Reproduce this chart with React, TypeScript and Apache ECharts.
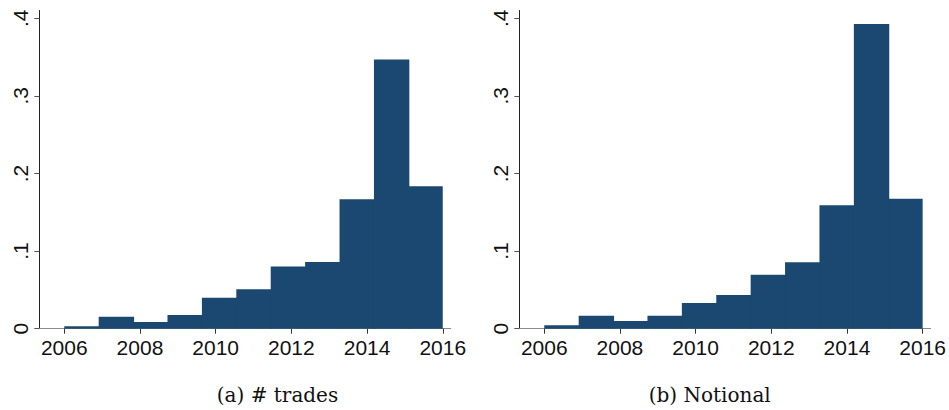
import React, { useEffect, useRef } from "react";
import * as echarts from "echarts";

const binStart = 2006;
const binCount = 11;
const binWidth = 10 / 11;
const tradesShare = [0.003, 0.0155, 0.0086, 0.0177, 0.04, 0.0508, 0.08, 0.086, 0.1667, 0.347, 0.1835];
const notionalShare = [0.0044, 0.0168, 0.0099, 0.0168, 0.033, 0.0434, 0.0696, 0.0856, 0.159, 0.3927, 0.1675];
const xTicks = [2006, 2008, 2010, 2012, 2014, 2016];
const yTicks = [0, 0.1, 0.2, 0.3, 0.4];
const captions = ["(a) # trades", "(b) Notional"];

const BAR = "#1b4870";

function toBins(vals: number[]) {
  const out: number[][] = [];
  for (let i = 0; i < binCount; i++) {
    out.push([binStart + i * binWidth, binStart + (i + 1) * binWidth, vals[i], i === binCount - 1 ? 1 : 0]);
  }
  return out;
}

export default function App() {
  const ref = useRef<HTMLDivElement>(null);
  useEffect(() => {
    if (!ref.current) return;
    const chart = echarts.init(ref.current, null, { renderer: "svg" });
    const grids = [
      { left: 39.3, top: 10.5, width: 411.4, height: 318.2 },
      { left: 519.3, top: 10.5, width: 411.7, height: 318.2 },
    ];
    const mkX = (i: number) => ({
      type: "value",
      gridIndex: i,
      min: 2005.34,
      max: 2016.21,
      splitLine: { show: false },
      axisLine: { lineStyle: { color: "#8a8a8a", width: 1 } },
      axisTick: { customValues: xTicks, length: 5, lineStyle: { color: "#333", width: 1 } },
      axisLabel: {
        customValues: xTicks,
        fontFamily: "Liberation Sans, Arial, sans-serif",
        fontSize: 21,
        color: "#111",
        margin: 8,
        formatter: (v: number) => String(v),
      },
    });
    const mkY = (i: number) => ({
      type: "value",
      gridIndex: i,
      min: 0,
      max: 0.41,
      splitLine: { show: false },
      axisLine: { show: true, lineStyle: { color: "#222", width: 1 } },
      axisTick: { show: true, customValues: yTicks, length: 5, lineStyle: { color: "#555", width: 1 } },
      axisLabel: {
        customValues: yTicks,
        rotate: 90,
        fontFamily: "Liberation Sans, Arial, sans-serif",
        fontSize: 21,
        color: "#111",
        margin: 8,
        formatter: (v: number) => (v === 0 ? "0" : String(v).replace(/^0/, "")),
      },
    });
    const renderItem = (params: any, api: any) => {
      const p0 = api.coord([api.value(0), api.value(2)]);
      const p1 = api.coord([api.value(1), 0]);
      const extra = api.value(3) ? 0 : 1;
      return {
        type: "rect",
        shape: { x: p0[0], y: p0[1], width: p1[0] - p0[0] + extra, height: p1[1] - p0[1] },
        style: { fill: BAR },
      };
    };
    chart.setOption({
      animation: false,
      grid: grids,
      xAxis: [mkX(0), mkX(1)],
      yAxis: [mkY(0), mkY(1)],
      series: [
        { type: "custom", xAxisIndex: 0, yAxisIndex: 0, renderItem, encode: { x: [0, 1], y: 2 }, data: toBins(tradesShare) },
        { type: "custom", xAxisIndex: 1, yAxisIndex: 1, renderItem, encode: { x: [0, 1], y: 2 }, data: toBins(notionalShare) },
      ],
      graphic: [
        {
          type: "text",
          x: 277.5,
          y: 395,
          style: { text: captions[0], fontFamily: "DejaVu Serif, serif", fontSize: 20, fill: "#111", align: "center", verticalAlign: "middle" },
        },
        {
          type: "text",
          x: 709.7,
          y: 395,
          style: { text: captions[1], fontFamily: "DejaVu Serif, serif", fontSize: 20, fill: "#111", align: "center", verticalAlign: "middle" },
        },
      ],
    });
    return () => chart.dispose();
  }, []);
  return <div ref={ref} style={{ position: "absolute", left: 0, top: 0, width: 949, height: 410 }} />;
}
